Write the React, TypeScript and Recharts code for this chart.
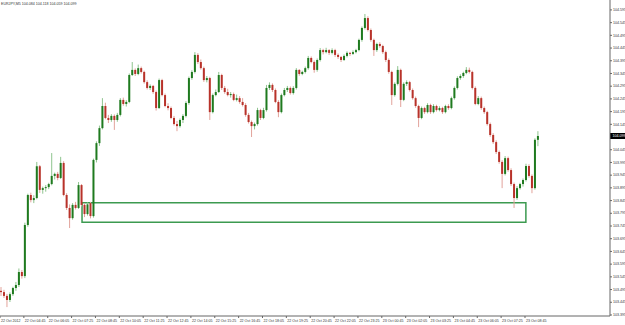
import { Bar, ComposedChart, ReferenceArea, ReferenceLine, XAxis, YAxis } from "recharts";

const TITLE = "EURJPY,M5  104.084 104.118 104.059 104.099";

// bottom axis labels, one every 8 bars
const TIME_LABELS = [
  "22 Oct 2012", "22 Oct 04:45", "22 Oct 06:05", "22 Oct 07:25", "22 Oct 08:45",
  "22 Oct 10:05", "22 Oct 11:25", "22 Oct 12:45", "22 Oct 14:05", "22 Oct 15:25",
  "22 Oct 16:45", "22 Oct 18:05", "22 Oct 19:25", "22 Oct 20:45", "22 Oct 22:05",
  "22 Oct 23:25", "23 Oct 00:45", "23 Oct 02:05", "23 Oct 03:25", "23 Oct 04:45",
  "23 Oct 06:05", "23 Oct 07:25", "23 Oct 08:45",
];

const PRICE_TICKS = [
  104.595, 104.545, 104.495, 104.445, 104.395, 104.345, 104.295, 104.245, 104.195,
  104.145, 104.045, 103.995, 103.945, 103.895, 103.845, 103.795, 103.745,
  103.695, 103.645, 103.595, 103.545, 103.495, 103.445, 103.395,
];

const LAST_CLOSE = 104.099;

// support zone drawn on the chart
const BOX_FROM = 27;
const BOX_TO = 175.8;
const BOX_LOW = 103.76;
const BOX_HIGH = 103.836;

// open, high, low, close
const BARS: [number, number, number, number][] = [
  [103.490, 103.505, 103.470, 103.485], [103.485, 103.494, 103.462, 103.470],
  [103.470, 103.478, 103.426, 103.454], [103.454, 103.484, 103.446, 103.477],
  [103.477, 103.506, 103.470, 103.501], [103.501, 103.525, 103.490, 103.513],
  [103.513, 103.578, 103.505, 103.564], [103.564, 103.572, 103.538, 103.548],
  [103.548, 103.758, 103.540, 103.749], [103.749, 103.872, 103.742, 103.867],
  [103.867, 103.876, 103.838, 103.847], [103.847, 103.866, 103.835, 103.855],
  [103.855, 103.997, 103.850, 103.980], [103.980, 103.985, 103.875, 103.887],
  [103.887, 103.900, 103.872, 103.894], [103.894, 103.906, 103.880, 103.898],
  [103.898, 103.915, 103.890, 103.910], [103.910, 104.032, 103.905, 103.942],
  [103.942, 103.955, 103.928, 103.950], [103.950, 103.958, 103.925, 103.934],
  [103.934, 104.017, 103.930, 103.993], [103.993, 104.000, 103.862, 103.867],
  [103.867, 103.874, 103.808, 103.816], [103.816, 103.830, 103.737, 103.776],
  [103.776, 103.835, 103.770, 103.828], [103.828, 103.840, 103.810, 103.816],
  [103.816, 103.918, 103.812, 103.906], [103.906, 103.910, 103.822, 103.828],
  [103.828, 103.834, 103.780, 103.792], [103.792, 103.838, 103.786, 103.830],
  [103.835, 103.840, 103.775, 103.784], [103.784, 104.010, 103.778, 104.005],
  [104.005, 104.078, 103.995, 104.071], [104.071, 104.140, 104.060, 104.130],
  [104.130, 104.248, 104.125, 104.217], [104.217, 104.230, 104.165, 104.170],
  [104.170, 104.182, 104.150, 104.162], [104.162, 104.185, 104.155, 104.178],
  [104.178, 104.184, 104.123, 104.162], [104.162, 104.190, 104.155, 104.182],
  [104.182, 104.248, 104.176, 104.241], [104.241, 104.250, 104.218, 104.225],
  [104.225, 104.240, 104.215, 104.233], [104.233, 104.345, 104.228, 104.339],
  [104.339, 104.390, 104.335, 104.359], [104.359, 104.365, 104.335, 104.343],
  [104.343, 104.380, 104.338, 104.366], [104.366, 104.372, 104.345, 104.351],
  [104.351, 104.356, 104.305, 104.311], [104.311, 104.318, 104.282, 104.288],
  [104.288, 104.302, 104.280, 104.296], [104.296, 104.300, 104.265, 104.272],
  [104.272, 104.278, 104.199, 104.209], [104.209, 104.325, 104.205, 104.319],
  [104.319, 104.324, 104.255, 104.260], [104.260, 104.266, 104.212, 104.217],
  [104.217, 104.228, 104.200, 104.209], [104.209, 104.215, 104.165, 104.170],
  [104.170, 104.178, 104.140, 104.146], [104.146, 104.158, 104.118, 104.138],
  [104.138, 104.168, 104.132, 104.162], [104.162, 104.185, 104.150, 104.178],
  [104.178, 104.236, 104.172, 104.229], [104.229, 104.333, 104.222, 104.327],
  [104.327, 104.358, 104.320, 104.351], [104.351, 104.429, 104.345, 104.418],
  [104.418, 104.425, 104.382, 104.390], [104.390, 104.400, 104.360, 104.366],
  [104.366, 104.372, 104.312, 104.319], [104.319, 104.335, 104.310, 104.327],
  [104.327, 104.332, 104.162, 104.193], [104.193, 104.266, 104.188, 104.260],
  [104.260, 104.282, 104.255, 104.272], [104.272, 104.351, 104.268, 104.339],
  [104.339, 104.344, 104.280, 104.288], [104.288, 104.296, 104.265, 104.272],
  [104.272, 104.285, 104.255, 104.260], [104.260, 104.272, 104.250, 104.264],
  [104.264, 104.270, 104.236, 104.241], [104.241, 104.262, 104.235, 104.248],
  [104.248, 104.256, 104.226, 104.233], [104.233, 104.248, 104.215, 104.221],
  [104.221, 104.228, 104.175, 104.182], [104.182, 104.190, 104.148, 104.154],
  [104.154, 104.160, 104.095, 104.138], [104.138, 104.152, 104.125, 104.146],
  [104.146, 104.210, 104.140, 104.201], [104.201, 104.206, 104.162, 104.170],
  [104.170, 104.210, 104.165, 104.201], [104.201, 104.300, 104.195, 104.288],
  [104.288, 104.310, 104.280, 104.300], [104.300, 104.306, 104.272, 104.280],
  [104.280, 104.286, 104.228, 104.233], [104.233, 104.240, 104.173, 104.193],
  [104.193, 104.266, 104.188, 104.260], [104.260, 104.288, 104.255, 104.280],
  [104.280, 104.296, 104.272, 104.288], [104.288, 104.294, 104.262, 104.268],
  [104.268, 104.295, 104.262, 104.288], [104.288, 104.366, 104.282, 104.359],
  [104.359, 104.362, 104.336, 104.343], [104.343, 104.356, 104.338, 104.351],
  [104.351, 104.372, 104.345, 104.366], [104.366, 104.414, 104.360, 104.406],
  [104.406, 104.412, 104.385, 104.390], [104.390, 104.396, 104.348, 104.359],
  [104.359, 104.404, 104.352, 104.398], [104.398, 104.445, 104.392, 104.437],
  [104.437, 104.442, 104.420, 104.429], [104.429, 104.446, 104.424, 104.437],
  [104.437, 104.441, 104.418, 104.426], [104.426, 104.444, 104.420, 104.437],
  [104.437, 104.442, 104.410, 104.418], [104.418, 104.424, 104.402, 104.410],
  [104.410, 104.414, 104.390, 104.398], [104.398, 104.420, 104.394, 104.414],
  [104.414, 104.432, 104.408, 104.426], [104.426, 104.430, 104.414, 104.422],
  [104.422, 104.436, 104.418, 104.429], [104.429, 104.442, 104.424, 104.437],
  [104.437, 104.482, 104.432, 104.477], [104.477, 104.530, 104.470, 104.524],
  [104.524, 104.579, 104.518, 104.563], [104.563, 104.570, 104.510, 104.516],
  [104.516, 104.522, 104.470, 104.477], [104.477, 104.482, 104.414, 104.437],
  [104.437, 104.466, 104.430, 104.461], [104.461, 104.468, 104.446, 104.453],
  [104.453, 104.458, 104.422, 104.429], [104.429, 104.435, 104.390, 104.398],
  [104.398, 104.404, 104.344, 104.351], [104.351, 104.356, 104.221, 104.260],
  [104.260, 104.310, 104.254, 104.304], [104.304, 104.374, 104.298, 104.359],
  [104.359, 104.364, 104.213, 104.241], [104.241, 104.310, 104.236, 104.304],
  [104.304, 104.318, 104.296, 104.311], [104.311, 104.316, 104.274, 104.280],
  [104.280, 104.286, 104.242, 104.248], [104.248, 104.254, 104.210, 104.217],
  [104.217, 104.222, 104.134, 104.170], [104.170, 104.215, 104.165, 104.209],
  [104.209, 104.214, 104.186, 104.193], [104.193, 104.228, 104.188, 104.221],
  [104.221, 104.226, 104.186, 104.193], [104.193, 104.224, 104.188, 104.217],
  [104.217, 104.222, 104.195, 104.201], [104.201, 104.216, 104.196, 104.209],
  [104.209, 104.214, 104.186, 104.193], [104.193, 104.222, 104.188, 104.217],
  [104.217, 104.224, 104.202, 104.209], [104.209, 104.254, 104.204, 104.248],
  [104.248, 104.294, 104.242, 104.288], [104.288, 104.334, 104.282, 104.327],
  [104.327, 104.342, 104.320, 104.335], [104.335, 104.352, 104.328, 104.347],
  [104.347, 104.370, 104.342, 104.359], [104.359, 104.368, 104.345, 104.351],
  [104.351, 104.356, 104.282, 104.288], [104.288, 104.294, 104.220, 104.225],
  [104.225, 104.256, 104.220, 104.248], [104.248, 104.254, 104.202, 104.209],
  [104.209, 104.215, 104.186, 104.193], [104.193, 104.198, 104.140, 104.146],
  [104.146, 104.152, 104.096, 104.103], [104.103, 104.110, 104.068, 104.075],
  [104.075, 104.082, 104.028, 104.036], [104.036, 104.042, 103.990, 103.997],
  [103.997, 104.004, 103.894, 103.950], [103.950, 104.020, 103.944, 104.012],
  [104.012, 104.018, 103.958, 103.965], [103.965, 103.972, 103.902, 103.910],
  [103.910, 103.916, 103.816, 103.855], [103.855, 103.902, 103.848, 103.894],
  [103.894, 103.915, 103.888, 103.910], [103.910, 103.932, 103.900, 103.926],
  [103.926, 103.990, 103.920, 103.981], [103.981, 103.988, 103.935, 103.942],
  [103.942, 103.948, 103.874, 103.894], [103.894, 104.090, 103.888, 104.084],
  [104.084, 104.118, 104.059, 104.099],
];

const data = BARS.map(([o, h, l, c], i) => ({ i, o, h, l, c, range: [l, h] }));

const AXIS = "#666";
const FONT = "'Liberation Sans', Arial, sans-serif";

function Candle(props: any) {
  const { x, y, width, height, payload } = props;
  const { o, h, l, c } = payload;
  const cx = x + width / 2;
  const k = h - l > 0 ? height / (h - l) : 0;
  const top = y + (h - Math.max(o, c)) * k;
  const bot = y + (h - Math.min(o, c)) * k;
  const up = c >= o;
  return (
    <g>
      <line x1={cx} x2={cx} y1={y} y2={y + height} stroke={up ? "#8fc48f" : "#e2a39b"} strokeWidth={1} />
      <rect x={cx - 1} y={top} width={2} height={Math.max(bot - top, 1)} fill={up ? "#1f7a1f" : "#b8322a"} />
    </g>
  );
}

function PriceTick({ x, y, payload }: any) {
  return (
    <g>
      <line x1={610} x2={612} y1={y} y2={y} stroke={AXIS} />
      <text x={x} y={y + 1.2} fontSize={3.6} fill="#333" fontFamily={FONT}>
        {payload.value.toFixed(3)}
      </text>
    </g>
  );
}

function TimeTick({ x, index }: any) {
  return (
    <g>
      <line x1={x} x2={x} y1={316} y2={318} stroke={AXIS} />
      <text x={x + 1} y={321.5} fontSize={3.6} fill="#333" fontFamily={FONT}>
        {TIME_LABELS[index]}
      </text>
    </g>
  );
}

function PriceBox({ viewBox }: any) {
  const { x, y, width } = viewBox;
  return (
    <g>
      <rect x={x + width} y={y - 3} width={15} height={6} fill="#000" />
      <text x={x + width + 2.5} y={y + 1.2} fontSize={3.6} fill="#fff" fontFamily={FONT}>
        {LAST_CLOSE.toFixed(3)}
      </text>
    </g>
  );
}

export default function App() {
  return (
    <div style={{ position: "absolute", left: 0, top: 0, width: 625, height: 325, background: "#fff" }}>
      <ComposedChart
        width={625}
        height={325}
        data={data}
        margin={{ top: 0, right: 0, bottom: 0, left: 0 }}
      >
        <XAxis
          type="number"
          dataKey="i"
          domain={[-0.5, 204]}
          allowDataOverflow
          ticks={TIME_LABELS.map((_, k) => k * 8 - 0.5)}
          tick={<TimeTick />}
          tickLine={false}
          axisLine={{ stroke: AXIS }}
          height={9}
          interval={0}
        />
        <YAxis
          orientation="right"
          type="number"
          domain={[103.391, 104.634]}
          allowDataOverflow
          ticks={PRICE_TICKS}
          tick={<PriceTick />}
          tickLine={false}
          tickSize={0}
          tickMargin={3}
          axisLine={{ stroke: AXIS }}
          width={15}
          interval={0}
        />
        <Bar dataKey="range" barSize={2} shape={<Candle />} isAnimationActive={false} />
        <ReferenceArea
          x1={BOX_FROM}
          x2={BOX_TO}
          y1={BOX_LOW}
          y2={BOX_HIGH}
          fill="none"
          fillOpacity={0}
          stroke="#3c9a50"
          strokeWidth={1.5}
        />
        <ReferenceLine y={LAST_CLOSE} stroke="none" label={<PriceBox />} />
        <text x={1} y={4.5} fontSize={3.6} fill="#333" fontFamily={FONT}>
          {TITLE}
        </text>
      </ComposedChart>
    </div>
  );
}
